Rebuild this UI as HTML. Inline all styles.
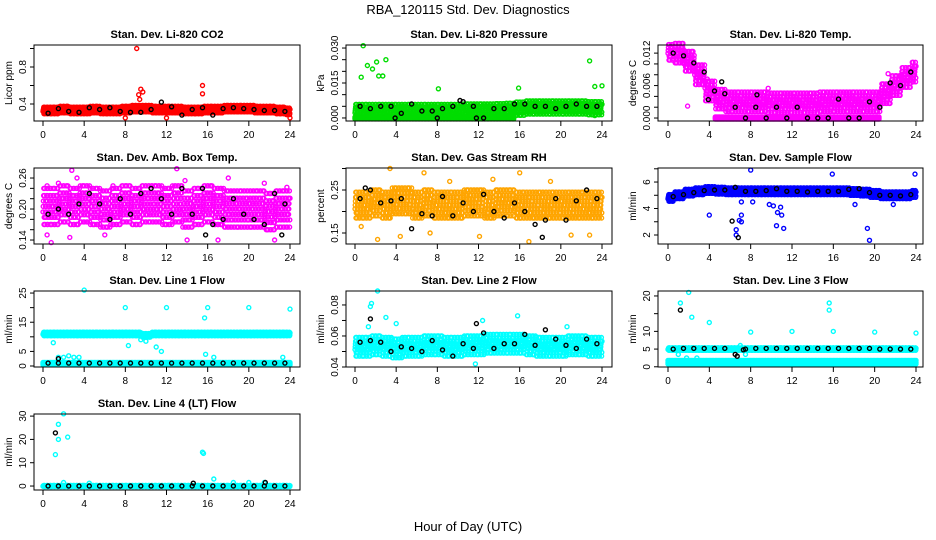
<!DOCTYPE html>
<html><head><meta charset="utf-8"><style>
body{margin:0;background:#fff;}
svg{display:block;font-family:"Liberation Sans",sans-serif;}
</style></head><body>
<svg id="chart" width="936" height="540" viewBox="0 0 936 540">
<text x="468" y="14" text-anchor="middle" font-size="13">RBA_120115  Std. Dev. Diagnostics</text>
<text x="468" y="531" text-anchor="middle" font-size="13">Hour of Day (UTC)</text>
</svg>
<script>
// ---- data arrays ----
const xTicks=[0,4,8,12,16,20,24];
const titles=["Stan. Dev. Li-820 CO2","Stan. Dev. Li-820 Pressure","Stan. Dev. Li-820 Temp.","Stan. Dev. Amb. Box Temp.","Stan. Dev. Gas Stream RH","Stan. Dev. Sample Flow","Stan. Dev. Line 1 Flow","Stan. Dev. Line 2 Flow","Stan. Dev. Line 3 Flow","Stan. Dev. Line 4 (LT) Flow"];
const yLabels=["Licor ppm","kPa","degrees C","degrees C","percent","ml/min","ml/min","ml/min","ml/min","ml/min"];
const colors=["#ff0000","#00dd00","#ff00ff","#ff00ff","#ffa500","#0000ff","#00ffff","#00ffff","#00ffff","#00ffff"];
const yTicks=[[0.4,0.6,0.8,1.0],[0,0.005,0.01,0.015,0.02,0.025,0.03],[0,0.002,0.004,0.006,0.008,0.01,0.012],[0.14,0.16,0.18,0.2,0.22,0.24,0.26],[0.15,0.2,0.25,0.3],[2,3,4,5,6,7],[0,5,10,15,20,25],[0.04,0.05,0.06,0.07,0.08],[0,5,10,15,20],[0,10,20,30]];
const yTickLabels=[["0.4","","0.8",""],["0.000","","","0.015","","","0.030"],["0.000","","","0.006","","","0.012"],["0.14","","","0.20","","","0.26"],["0.15","","0.25",""],["2","","4","","6",""],["0","5","","15","","25"],["0.04","","0.06","","0.08"],["0","5","10","","20"],["0","10","20","30"]];
const yRanges=[[0.216,1.038],[-0.0013,0.0313],[-0.00055,0.0135],[0.1323,0.2794],[0.1244,0.3012],[1.32,7.06],[-0.34,25.7],[0.04,0.089],[-0.06,21.4],[-1.7,30.9]];
const centers=[
[0.33,0.33,0.34,0.33,0.33,0.34,0.33,0.33,0.34,0.35,0.35,0.34,0.34,0.34,0.33,0.33,0.34,0.34,0.35,0.35,0.35,0.34,0.34,0.33,0.32],
[0.003,0.003,0.003,0.003,0.003,0.003,0.003,0.003,0.003,0.003,0.003,0.0032,0.0032,0.0032,0.0033,0.0035,0.004,0.0045,0.0045,0.0045,0.0045,0.0045,0.0045,0.0042,0.0042],
[0.0125,0.012,0.0105,0.008,0.005,0.0035,0.003,0.003,0.003,0.003,0.0028,0.0028,0.0028,0.0028,0.0028,0.003,0.003,0.003,0.003,0.003,0.003,0.0045,0.006,0.0075,0.0085],
[0.205,0.205,0.21,0.205,0.21,0.205,0.2,0.205,0.21,0.205,0.21,0.21,0.205,0.21,0.2,0.205,0.21,0.205,0.2,0.2,0.2,0.2,0.195,0.2,0.2],
[0.215,0.215,0.22,0.215,0.225,0.225,0.215,0.22,0.215,0.215,0.215,0.22,0.22,0.215,0.22,0.22,0.215,0.215,0.215,0.215,0.215,0.215,0.215,0.215,0.215],
[4.8,5.0,5.2,5.3,5.4,5.35,5.3,5.3,5.3,5.3,5.3,5.3,5.3,5.3,5.3,5.3,5.3,5.3,5.25,5.2,5.1,5.0,5.0,5.0,5.1],
[11,11,11,11,11,11,11,11,11,11,10.5,11,11,11,11,11,11,11,11,11,11,11,11,11,11],
[0.053,0.053,0.054,0.053,0.052,0.053,0.053,0.054,0.054,0.053,0.053,0.054,0.054,0.055,0.055,0.055,0.055,0.054,0.053,0.053,0.053,0.054,0.054,0.053,0.053],
[5,5,5,5,5,5,5,5,5,5,5,5,5,5,5,5,5,5,5,5,5,5,5,5,5],
[0,0,0,0,0,0,0,0,0,0,0,0,0,0,0,0,0,0,0,0,0,0,0,0,0]];
const spreads=[0.035,0.0028,0.0018,0.035,0.03,0.25,0.6,0.006,0.35,0.25];
const lowBand=[null,[0,0,0,0,0,0,0,0,0,0,0,0,0,0,0,0,null,null,null,null,null,null,null,null,null],[null,null,null,null,null,0,0,0,0,0,0,0,0,0,0,0,0,0,0,0,0,null,null,null,null],null,null,null,[0.8,0.8,0.8,0.8,0.8,0.8,0.8,0.8,0.8,0.8,0.8,0.8,0.8,0.8,0.8,0.8,0.8,0.8,0.8,0.8,0.8,0.8,0.8,0.8,0.8],null,[1.3,1.3,1.3,1.3,1.3,1.3,1.3,1.3,1.3,1.3,1.3,1.3,1.3,1.3,1.3,1.3,1.3,1.3,1.3,1.3,1.3,1.3,1.3,1.3,1.3],null];
const lowSpreads=[0,0.0004,0.0002,0,0,0,0.4,0,0.5,0];
const blacks=[
[0.30,0.35,0.32,0.31,0.36,0.34,0.36,0.32,0.31,0.31,0.34,0.42,0.37,0.28,0.34,0.36,0.28,0.35,0.36,0.35,0.34,0.33,0.33,0.32],
[0.005,0.004,0.005,0.005,0.002,0.006,0.003,0.003,0.004,0.005,0.007,0.005,0.0,0.004,0.004,0.006,0.006,0.005,0.005,0.004,0.005,0.006,0.005,0.005],
[0.012,0.0115,0.0102,0.0085,0.005,0.0045,0.002,0.0,0.002,0.0,0.002,0.0,0.002,0.0,0.0,0.0,0.0035,0.0,0.0,0.003,0.002,0.0065,0.006,0.0085],
[0.19,0.20,0.19,0.21,0.23,0.21,0.18,0.22,0.19,0.23,0.24,0.22,0.19,0.24,0.19,0.24,0.17,0.18,0.22,0.19,0.18,0.17,0.23,0.21],
[0.23,0.25,0.22,0.225,0.23,0.16,0.195,0.19,0.235,0.19,0.22,0.20,0.24,0.20,0.185,0.22,0.20,0.17,0.18,0.23,0.18,0.225,0.25,0.23],
[4.9,5.05,5.2,5.35,5.4,5.4,5.6,5.3,5.3,5.35,5.5,5.3,5.3,5.25,5.3,5.3,5.3,5.45,5.5,5.2,5.0,5.0,4.95,5.05],
[1,1,1,1,1,1,1,1,1,1,1,1,1,1,1,1,1,1,1,1,1,1,1,1],
[0.056,0.057,0.056,0.05,0.053,0.052,0.05,0.057,0.051,0.047,0.055,0.052,0.062,0.052,0.055,0.055,0.061,0.054,0.064,0.058,0.054,0.052,0.058,0.055],
[5,5.2,5.2,5.2,5.2,5.2,3.5,5,5.2,5.2,5.2,5.2,5.2,5.2,5.2,5.2,5.2,5.2,5.2,5.2,5,5,5,5],
[0,0,0,0,0,0,0,0,0,0,0,0,0,0,0,0,0,0,0,0,0,0,0,0]];
const blackExtras=[[],[[10.2,0.0075],[3.9,0],[8,0],[11.8,0]],[[3.9,0.0034],[5.2,0.0067],[8.6,0.0043]],[[15.8,0.15],[23.2,0.15]],[[18.2,0.14],[1,0.255]],[[6.2,3.05],[6.8,1.8]],[[1.5,2.5]],[[1.5,0.071],[11.8,0.068]],[[1.2,16],[6.7,3],[7.3,4.8]],[[1.2,22.8],[14.6,1.2],[21.6,1.5]]];
const outliers=[
[[9.1,1.0],[9.3,0.5],[9.5,0.56],[9.7,0.53],[9.4,0.45],[15.5,0.6],[15.5,0.51],[8,0.25],[12,0.25],[24,0.25]],
[[0.8,0.031],[0.6,0.0175],[1.2,0.0225],[1.7,0.021],[2.1,0.024],[2.3,0.018],[2.7,0.018],[3,0.025],[8.1,0.0125],[15.9,0.0128],[22.8,0.0245],[23.3,0.0135],[24,0.0138],[23.3,0.001]],
[[1.9,0.0022],[9.7,0.0055],[3.8,0.0072],[21.3,0.0082]],
[[2.8,0.275],[13,0.278],[0.8,0.135],[0.4,0.15],[13.8,0.255],[2.6,0.145],[6.8,0.245],[23.7,0.242],[1.5,0.25],[0.4,0.245],[6,0.15],[14,0.14],[17,0.14],[22.5,0.14],[3.3,0.26],[18,0.26],[21.5,0.25]],
[[3.4,0.3],[6.7,0.29],[16,0.29],[2.2,0.135],[16.9,0.13],[4.4,0.142],[12.1,0.142],[13.4,0.275],[0.6,0.165],[7.3,0.15],[19,0.27],[21,0.145],[22.8,0.145],[9.2,0.27]],
[[4,3.5],[6.6,2.4],[6.6,2.0],[7.1,3.0],[7.1,3.5],[6.9,3.1],[8,6.9],[9.8,4.3],[10.2,4.2],[10.5,2.7],[10.6,3.7],[10.9,4.1],[11,3.5],[11.2,2.5],[15.9,6.6],[18.1,4.3],[19.3,2.5],[19.5,1.6],[21.8,4.3],[23.9,6.6],[7.1,4.5],[8.2,4.5]],
[[4,26],[8,20],[12,20],[16,20],[20,20],[24,19.5],[15.7,16.5],[9.5,9],[10,8.5],[11,6.5],[11.5,5],[8.3,7],[15.8,4],[1,8],[1.5,3],[2,3],[2.5,3.5],[3,3],[3.5,3],[16.6,3],[23.3,3]],
[[2.2,0.089],[1.5,0.079],[1.6,0.081],[3,0.072],[12.4,0.07],[1.3,0.066],[4,0.068],[15.8,0.073],[11.7,0.042],[20.6,0.066]],
[[1.2,18],[2.0,21],[2.3,14],[4,12.5],[8,9.8],[12,10],[15.6,18],[15.6,16],[16,10],[20,9.8],[24,9.5],[1,3.5],[1.8,2.5],[2.8,2.5],[7,6],[7.5,3.5]],
[[1.5,26.5],[1.2,13.5],[1.5,20],[2,31],[2.4,21],[15.5,14.5],[15.6,14],[16.6,3],[2,1.5],[4.5,1.2],[18.5,1.5],[20,1.5],[21.5,1.5]]];

// ---- layout ----
const boxLefts=[34,346,658], boxW=[266,266,265];
const x0px=[43,355,668], x24px=[290,602,916];
const boxTops=[45,168,291,414], boxH=76;
const NS="http://www.w3.org/2000/svg";
const svg=document.getElementById('chart');
function mk(tag,attrs,parent){const e=document.createElementNS(NS,tag);for(const k in attrs)e.setAttribute(k,attrs[k]);(parent||svg).appendChild(e);return e;}
const xOff=[-0.42,-0.28,-0.14,0,0.14,0.28,0.42];
const vOff=[-1,-0.6,-0.3,0,0.3,0.6,1];

titles.forEach((t,p)=>{
  const col=p%3,row=Math.floor(p/3);
  const L=boxLefts[col],T=boxTops[row],W=boxW[col],B=T+boxH;
  const [ymin,ymax]=yRanges[p];
  const xs=h=>x0px[col]+(x24px[col]-x0px[col])*h/24;
  const ys=v=>B-(v-ymin)/(ymax-ymin)*boxH;
  const g=mk('g',{});
  
  
  const tt=mk('text',{x:L+W/2,y:T-7,'text-anchor':'middle','font-size':'11','font-weight':'bold'},g);tt.textContent=t;
  
  
  const pts=mk('g',{fill:'none','stroke-width':'1.4'},g);
  
  
  const dot=(h,v,c)=>{if(h<0||h>24||v==null)return;const y=ys(v);if(y<T-2||y>B+2)return;const e=mk('circle',{cx:xs(h).toFixed(1),cy:y.toFixed(1),r:2,stroke:c},pts);
    
    };
  centers[p].forEach((v,i)=>{xOff.forEach((o,a)=>{vOff.forEach((k,b)=>{const kk=vOff[(b+a*3+i)%7];dot(i+o+b*0.02,v+kk*spreads[p],colors[p]);});});});
  if(lowBand[p])lowBand[p].forEach((v,i)=>{if(v==null)return;xOff.forEach(o=>{[-1,0,1].forEach(k=>dot(i+o,v+k*lowSpreads[p],colors[p]));});});
  outliers[p].forEach(d=>dot(d[0],d[1],colors[p]));
  blacks[p].forEach((v,i)=>dot(i+0.5,v,'#000'));
  blackExtras[p].forEach(d=>dot(d[0],d[1],'#000'));
  const box=mk('rect',{x:L,y:T,width:W,height:boxH,fill:'none',stroke:'#000','stroke-width':1},g);
  
  
  const xa=mk('g',{stroke:'#000','font-size':'10'},g);
  
  
  xTicks.forEach(h=>{mk('line',{x1:xs(h),x2:xs(h),y1:B,y2:B+5},xa);
    const lt=mk('text',{x:xs(h),y:B+17,'text-anchor':'middle',stroke:'none'},xa);lt.textContent=h;});
  const ya=mk('g',{stroke:'#000','font-size':'10'},g);
  
  
  yTicks[p].forEach((v,i)=>{const y=ys(v);mk('line',{x1:L-4,x2:L,y1:y,y2:y},ya);
    const lab=yTickLabels[p][i];if(lab){const lt=mk('text',{x:L-8,y:y,'text-anchor':'middle',stroke:'none',transform:`rotate(-90 ${L-8} ${y})`},ya);lt.textContent=lab;}});
  const yl=mk('text',{x:L-22,y:T+boxH/2,'text-anchor':'middle','font-size':'10',transform:`rotate(-90 ${L-22} ${T+boxH/2})`},g);yl.textContent=yLabels[p];
  
  
});
</script>
</body></html>
